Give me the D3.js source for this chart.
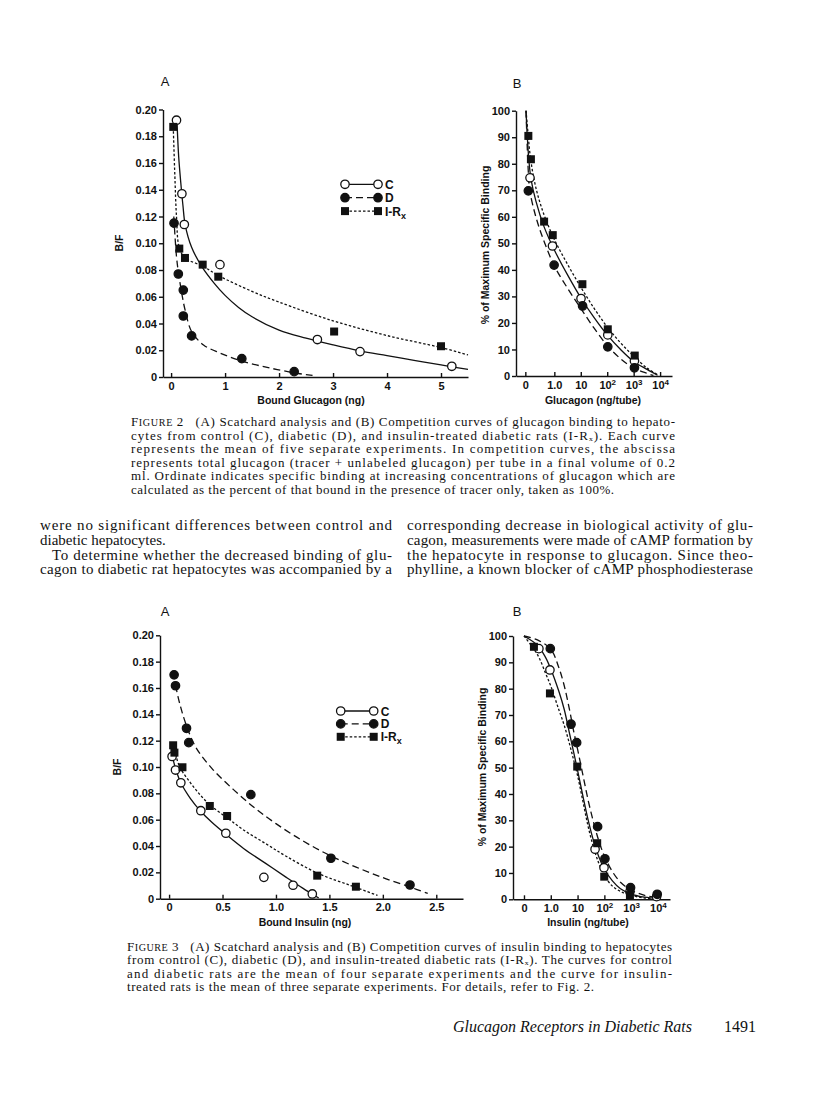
<!DOCTYPE html>
<html>
<head>
<meta charset="utf-8">
<script src="https://d3js.org/d3.v7.min.js"></script>
<style>
  body { margin: 0; background: #fff; }
  .axis path, .axis line { stroke: #111; stroke-width: 1.4; }
  .axis text { font-family: "Liberation Sans", Arial, sans-serif; font-weight: bold; font-size: 11px; fill: #111; }
  .ttl { font-family: "Liberation Sans", Arial, sans-serif; font-weight: bold; font-size: 10.5px; fill: #111; }
  .plab { font-family: "Liberation Sans", Arial, sans-serif; font-size: 13px; fill: #111; }
  .leg { font-family: "Liberation Sans", Arial, sans-serif; font-weight: bold; font-size: 12px; fill: #111; }
  .cap { font-family: "Liberation Serif", "Times New Roman", serif; font-size: 13px; fill: #111; }
  .body { font-family: "Liberation Serif", "Times New Roman", serif; font-size: 15px; fill: #111; }
  .foot { font-family: "Liberation Serif", "Times New Roman", serif; font-size: 16px; fill: #111; }
</style>
</head>
<body>
<svg id="page" width="816" height="1099"></svg>
<script>
// ---------- Figure 2A : Scatchard, bound glucagon (ng) vs B/F ----------
var glu_scat_C   = [[0.10,0.192],[0.20,0.137],[0.245,0.114],[0.905,0.084],[2.71,0.028],[3.5,0.019],[5.2,0.008]];
var glu_scat_D   = [[0.054,0.115],[0.134,0.077],[0.226,0.065],[0.226,0.0456],[0.38,0.0307],[1.31,0.0137],[2.28,0.004]];
var glu_scat_R   = [[0.04,0.187],[0.152,0.096],[0.257,0.089],[0.585,0.084],[0.874,0.075],[3.02,0.034],[5.0,0.023]];
var glu_scat_fitC = [[0.11,0.19],[0.14,0.165],[0.18,0.145],[0.22,0.128],[0.26,0.114],[0.38,0.097],[0.57,0.0825],[0.8,0.07],[1,0.061],[1.25,0.052],[1.5,0.045],[2,0.035],[2.5,0.029],[3,0.024],[3.5,0.0195],[4,0.016],[4.5,0.0125],[5,0.009],[5.5,0.0057]];
var glu_scat_fitD = [[0.05,0.12],[0.1,0.09],[0.14,0.077],[0.2,0.062],[0.26,0.05],[0.38,0.034],[0.6,0.024],[0.9,0.018],[1.3,0.012],[1.8,0.007],[2.3,0.003],[2.62,0.0012]];
var glu_scat_fitR = [[0.04,0.187],[0.07,0.15],[0.1,0.12],[0.15,0.097],[0.26,0.089],[0.58,0.083],[0.87,0.076],[1.5,0.064],[2,0.056],[3,0.042],[4,0.031],[5,0.022],[5.5,0.0165]];

// ---------- Figure 2B : competition, glucagon (ng/tube) vs % binding ----------
var glu_comp_C = [[0.12,74.7],[0.85,49],[10.2,29.2],[105,15.5],[1070,5.7]];
var glu_comp_D = [[0.104,69.8],[0.98,41.8],[11.7,26.4],[105,11],[1070,3.1]];
var glu_comp_R = [[0.104,90.5],[0.13,81.7],[0.41,58.2],[0.87,53.1],[11.5,34.6],[105,17.6],[1100,7.7]];
var glu_comp_fitC = [[0.085,100],[0.095,90],[0.112,80],[0.132,74],[0.2,66],[0.4,56.5],[1,47.5],[3.2,38],[10,29.5],[32,22],[100,15.5],[320,10],[1000,5.5],[3200,2.5],[8000,0.3]];
var glu_comp_fitD = [[0.085,100],[0.093,88],[0.105,76],[0.117,70],[0.2,60],[0.4,51],[1,41.5],[3.2,33],[10,25.5],[32,18],[100,11.5],[320,6.5],[1000,3],[3200,1],[5600,0.2]];
var glu_comp_fitR = [[0.085,100],[0.1,92],[0.126,82],[0.2,71],[0.4,61],[1,51.5],[3.2,42],[10,33.5],[32,25.5],[100,18.5],[320,12.5],[1000,7.5],[3200,3],[8900,0.3]];

// ---------- Figure 3A : Scatchard, bound insulin (ng) vs B/F ----------
var ins_scat_C = [[0.028,0.108],[0.06,0.0977],[0.11,0.088],[0.297,0.0668],[0.531,0.0497],[0.887,0.0162],[1.16,0.0102],[1.34,0.0036]];
var ins_scat_D = [[0.047,0.170],[0.06,0.1617],[0.163,0.1294],[0.184,0.1185],[0.765,0.079],[1.514,0.0307],[2.254,0.0104]];
var ins_scat_R = [[0.038,0.1165],[0.05,0.1109],[0.125,0.0998],[0.381,0.0704],[0.543,0.0628],[1.386,0.0175],[1.748,0.0091]];
var ins_scat_fitC = [[0.025,0.11],[0.06,0.099],[0.11,0.088],[0.2,0.076],[0.3,0.066],[0.4,0.058],[0.53,0.049],[0.7,0.038],[0.9,0.027],[1.1,0.016],[1.25,0.008],[1.4,0.0005]];
var ins_scat_fitD = [[0.06,0.162],[0.1,0.148],[0.16,0.132],[0.25,0.115],[0.4,0.099],[0.6,0.083],[0.8,0.069],[1.0,0.057],[1.25,0.044],[1.5,0.033],[1.75,0.024],[2.0,0.016],[2.25,0.009],[2.42,0.004]];
var ins_scat_fitR = [[0.05,0.113],[0.1,0.1],[0.2,0.088],[0.3,0.078],[0.4,0.07],[0.55,0.061],[0.7,0.052],[0.9,0.042],[1.1,0.032],[1.4,0.019],[1.7,0.01],[1.95,0.0025]];

// ---------- Figure 3B : competition, insulin (ng/tube) vs % binding ----------
var ins_comp_C = [[0.36,95.2],[0.93,87.1],[45,19],[97,12],[900,2.9],[8900,1.0]];
var ins_comp_D = [[0.96,95.2],[5.7,66.5],[9.25,59.5],[56,27.6],[105,15.4],[950,4.4],[9400,1.9]];
var ins_comp_R = [[0.235,95.9],[0.93,78.2],[9.7,50.4],[54,21.3],[99,8.6],[900,1.6]];
var ins_comp_fitC = [[0.1,100],[0.316,96.5],[0.63,92],[1,87.5],[2,79],[3.2,72],[5,63],[7.1,56],[10,49],[16,39],[25,30],[40,22],[63,16],[100,11.5],[200,7],[400,4],[1000,2],[3200,0.8],[10000,0.3]];
var ins_comp_fitD = [[0.1,100],[0.316,98.5],[1,95],[2,88],[3.2,81],[5,72],[7.1,64],[10,57],[16,47],[25,37.5],[40,29],[63,22],[100,16.5],[200,10.5],[400,6.5],[1000,3.5],[3200,1.5],[10000,0.7]];
var ins_comp_fitR = [[0.1,100],[0.316,93],[0.63,86],[1,81],[2,72],[3.2,66],[5,59],[7.1,53],[10,47],[16,37],[25,27.5],[40,19.5],[63,13.5],[100,9],[200,5],[400,3],[1000,1.5],[3200,0.5],[10000,0.2]];

// ---------- ticks ----------
var bfTicks = [0,0.02,0.04,0.06,0.08,0.10,0.12,0.14,0.16,0.18,0.20];
var bfLabels = ["0","0.02","0.04","0.06","0.08","0.10","0.12","0.14","0.16","0.18","0.20"];
var pctTicks = [0,10,20,30,40,50,60,70,80,90,100];
var pctLabels = ["0","10","20","30","40","50","60","70","80","90","100"];
var gluBoundTicks = [0,1,2,3,4,5];
var gluBoundLabels = ["0","1","2","3","4","5"];
var insBoundTicks = [0,0.5,1.0,1.5,2.0,2.5];
var insBoundLabels = ["0","0.5","1.0","1.5","2.0","2.5"];
var gluTubeTicks = [0.08,1,10,100,1000,10000];
var insTubeTicks = [0.1,1,10,100,1000,10000];
var tubeLabels = ["0","1.0","10","10^2","10^3","10^4"];
var legendNames = ["C","D","I-R^x"];

var svg = d3.select("#page");
svg.append("rect").attr("width",816).attr("height",1099).attr("fill","#fff");

var styles = {
  C: { dash: null, mark: "open" },
  D: { dash: "7,4", mark: "dot" },
  R: { dash: "2.5,2", mark: "square" }
};

function mark(g, type, cx, cy) {
  if (type == "square") {
    g.append("rect").attr("x",cx-4).attr("y",cy-4).attr("width",8).attr("height",8).attr("fill","#111");
  } else {
    g.append("circle").attr("cx",cx).attr("cy",cy).attr("r",4.2)
      .attr("fill", type == "open" ? "#fff" : "#111")
      .attr("stroke","#111").attr("stroke-width",1.3);
  }
}

// "^" splits off a raised (or, with sub, lowered) small part
function supText(sel, s, sub) {
  sel.text(null);
  var parts = s.split("^");
  sel.append("tspan").text(parts[0]);
  if (parts.length > 1) {
    sel.append("tspan").attr("dy", sub ? 3 : -4).attr("font-size", sub ? "9px" : "8px").text(parts[1]);
  }
}

function panel(p) {
  var g = svg.append("g");
  var x = (p.log ? d3.scaleLog() : d3.scaleLinear()).domain(p.xDom).range(p.xRange);
  var y = d3.scaleLinear().domain(p.yDom).range(p.yRange);

  var ax = g.append("g").attr("class","axis").attr("transform","translate(0," + p.yRange[0] + ")")
    .call(d3.axisBottom(x).tickValues(p.xTicks).tickSize(-4).tickSizeOuter(0).tickPadding(5)
      .tickFormat(function(d, i) { return p.xLabels[i]; }));
  ax.selectAll(".tick text").each(function(d, i) {
    if (p.xLabels[i].indexOf("^") > 0) supText(d3.select(this), p.xLabels[i], false);
  });
  g.append("g").attr("class","axis").attr("transform","translate(" + p.xRange[0] + ",0)")
    .call(d3.axisLeft(y).tickValues(p.yTicks).tickSize(4).tickSizeOuter(0).tickPadding(2)
      .tickFormat(function(d, i) { return p.yLabels[i]; }));

  g.append("text").attr("class","ttl").attr("x",p.xTitlePos[0]).attr("y",p.xTitlePos[1])
    .attr("text-anchor","middle").text(p.xTitle);
  g.append("text").attr("class","ttl").attr("text-anchor","middle")
    .attr("transform","translate(" + p.yTitlePos[0] + "," + p.yTitlePos[1] + ") rotate(-90)")
    .text(p.yTitle);
  g.append("text").attr("class","plab").attr("x",p.letterPos[0]).attr("y",p.letterPos[1])
    .attr("text-anchor","middle").text(p.letter);

  var line = d3.line().x(function(d) { return x(d[0]); }).y(function(d) { return y(d[1]); })
    .curve(d3.curveCatmullRom.alpha(0.5));
  ["C","D","R"].forEach(function(k) {
    g.append("path").attr("d", line(p.fits[k])).attr("fill","none").attr("stroke","#111")
      .attr("stroke-width",1.3).attr("stroke-dasharray", styles[k].dash);
  });
  ["C","D","R"].forEach(function(k) {
    p.pts[k].forEach(function(d) { mark(g, styles[k].mark, x(d[0]), y(d[1])); });
  });

  if (p.legend) {
    ["C","D","R"].forEach(function(k, i) {
      var ly = p.legend[1] + i * p.legend[2], lx = p.legend[0];
      g.append("line").attr("x1",lx).attr("x2",lx+33).attr("y1",ly).attr("y2",ly)
        .attr("stroke","#111").attr("stroke-width",1.3).attr("stroke-dasharray", styles[k].dash);
      mark(g, styles[k].mark, lx, ly);
      mark(g, styles[k].mark, lx+33, ly);
      var t = g.append("text").attr("class","leg").attr("x",lx+40).attr("y",ly+4.5);
      supText(t, legendNames[i], true);
    });
  }
}

panel({
  xDom: [-0.15, 5.5], xRange: [163, 468], yDom: [0, 0.2], yRange: [377, 109.5],
  xTicks: gluBoundTicks, xLabels: gluBoundLabels, yTicks: bfTicks, yLabels: bfLabels,
  xTitle: "Bound Glucagon (ng)", xTitlePos: [311, 403.5], yTitle: "B/F", yTitlePos: [123, 243],
  letter: "A", letterPos: [165, 86],
  pts: { C: glu_scat_C, D: glu_scat_D, R: glu_scat_R },
  fits: { C: glu_scat_fitC, D: glu_scat_fitD, R: glu_scat_fitR },
  legend: [345, 184.3, 13.4]
});
panel({
  log: true, xDom: [Math.pow(10,-1.45), Math.pow(10,4.45)], xRange: [516, 672], yDom: [0, 100], yRange: [376, 110.7],
  xTicks: gluTubeTicks, xLabels: tubeLabels, yTicks: pctTicks, yLabels: pctLabels,
  xTitle: "Glucagon (ng/tube)", xTitlePos: [593, 403.5], yTitle: "% of Maximum Specific Binding", yTitlePos: [489, 245],
  letter: "B", letterPos: [517, 88],
  pts: { C: glu_comp_C, D: glu_comp_D, R: glu_comp_R },
  fits: { C: glu_comp_fitC, D: glu_comp_fitD, R: glu_comp_fitR }
});
panel({
  xDom: [-0.085, 2.75], xRange: [160, 463], yDom: [0, 0.2], yRange: [898.7, 635.3],
  xTicks: insBoundTicks, xLabels: insBoundLabels, yTicks: bfTicks, yLabels: bfLabels,
  xTitle: "Bound Insulin (ng)", xTitlePos: [305, 926], yTitle: "B/F", yTitlePos: [121, 767],
  letter: "A", letterPos: [165, 616],
  pts: { C: ins_scat_C, D: ins_scat_D, R: ins_scat_R },
  fits: { C: ins_scat_fitC, D: ins_scat_fitD, R: ins_scat_fitR },
  legend: [340.7, 711, 12.9]
});
panel({
  log: true, xDom: [Math.pow(10,-1.41), Math.pow(10,4.45)], xRange: [513, 670], yDom: [0, 100], yRange: [899.3, 636],
  xTicks: insTubeTicks, xLabels: tubeLabels, yTicks: pctTicks, yLabels: pctLabels,
  xTitle: "Insulin (ng/tube)", xTitlePos: [588, 926], yTitle: "% of Maximum Specific Binding", yTitlePos: [486, 767],
  letter: "B", letterPos: [517, 616],
  pts: { C: ins_comp_C, D: ins_comp_D, R: ins_comp_R },
  fits: { C: ins_comp_fitC, D: ins_comp_fitD, R: ins_comp_fitR }
});

// ---------- running text ----------
// segments: plain strings, or {sc:"FIGURE"} for small caps
function textLine(cls, x, y, segs, width) {
  var t = svg.append("text").attr("class", cls).attr("x", x).attr("y", y).attr("xml:space","preserve");
  segs.forEach(function(s) {
    if (typeof s == "string") {
      t.append("tspan").text(s);
    } else if (s.sc) {
      t.append("tspan").text(s.sc[0]);
      t.append("tspan").attr("font-size","0.78em").text(s.sc.slice(1));
    }
  });
  if (width) t.attr("textLength", width).attr("lengthAdjust", "spacing");
  return t;
}

var cap2 = [
  [[{sc:"FIGURE"}, " 2   (A) Scatchard analysis and (B) Competition curves of glucagon binding to hepato-"], 544],
  [["cytes from control (C), diabetic (D), and insulin-treated diabetic rats (I-R\u2093). Each curve"], 544],
  [["represents the mean of five separate experiments. In competition curves, the abscissa"], 544],
  [["represents total glucagon (tracer + unlabeled glucagon) per tube in a final volume of 0.2"], 544],
  [["ml. Ordinate indicates specific binding at increasing concentrations of glucagon which are"], 544],
  [["calculated as the percent of that bound in the presence of tracer only, taken as 100%."], 483]
];
cap2.forEach(function(l, i) { textLine("cap", 131, 426 + i * 13.5, l[0], l[1]); });

var bodyLeft = [
  [40, "were no significant differences between control and", 352],
  [40, "diabetic hepatocytes.", 0],
  [52, "To determine whether the decreased binding of glu-", 340],
  [40, "cagon to diabetic rat hepatocytes was accompanied by a", 352]
];
var bodyRight = [
  "corresponding decrease in biological activity of glu-",
  "cagon, measurements were made of cAMP formation by",
  "the hepatocyte in response to glucagon. Since theo-",
  "phylline, a known blocker of cAMP phosphodiesterase"
];
bodyLeft.forEach(function(l, i) { textLine("body", l[0], 530 + i * 14.8, [l[1]], l[2]); });
bodyRight.forEach(function(l, i) { textLine("body", 407, 530 + i * 14.8, [l], 346); });

var cap3 = [
  [[{sc:"FIGURE"}, " 3   (A) Scatchard analysis and (B) Competition curves of insulin binding to hepatocytes"], 545],
  [["from control (C), diabetic (D), and insulin-treated diabetic rats (I-R\u2093). The curves for control"], 545],
  [["and diabetic rats are the mean of four separate experiments and the curve for insulin-"], 545],
  [["treated rats is the mean of three separate experiments. For details, refer to Fig. 2."], 467]
];
cap3.forEach(function(l, i) { textLine("cap", 127, 951 + i * 13.3, l[0], l[1]); });

svg.append("text").attr("class","foot").attr("x",453).attr("y",1032).attr("font-style","italic")
  .attr("textLength",239).attr("lengthAdjust","spacingAndGlyphs").text("Glucagon Receptors in Diabetic Rats");
svg.append("text").attr("class","foot").attr("x",724).attr("y",1032).text("1491");
</script>
</body>
</html>
